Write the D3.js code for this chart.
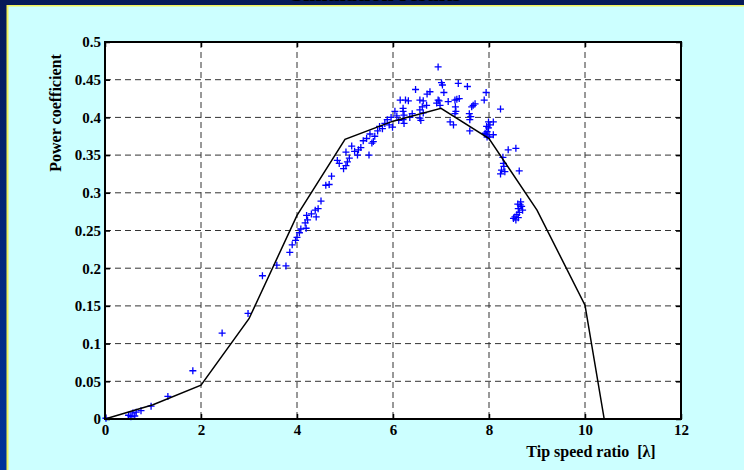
<html>
<head>
<meta charset="utf-8">
<title>Power coefficient</title>
<style>
  body { margin: 0; overflow: hidden; }
  text { font-family: "Liberation Serif", "Times New Roman", serif; font-weight: bold; }
</style>
</head>
<body>
<script src="https://cdn.jsdelivr.net/npm/d3@7"></script>
<script>
// model curve
var curveTSR = [0, 1, 2, 3, 4, 5, 6, 7, 8, 9, 10, 10.4];
var curveCp  = [0, 0.019, 0.045, 0.133, 0.27, 0.371, 0.395, 0.412, 0.372, 0.277, 0.151, 0];

// measured points
var measTSR = [0.02,0.49,0.54,0.58,0.62,0.65,0.75,0.96,1.31,1.83,2.44,2.98,3.28,3.58,3.77,3.85,3.90,3.97,4.00,4.05,
  4.08,4.19,4.17,4.22,4.20,4.30,4.40,4.38,4.44,4.50,4.60,4.67,4.72,4.84,4.88,4.97,5.02,5.05,5.02,5.09,
  5.14,5.26,5.28,5.33,5.38,5.50,5.56,5.59,5.20,5.45,5.52,5.62,5.68,5.72,5.78,5.83,5.88,5.92,5.96,6.04,
  6.08,5.99,6.12,6.21,6.21,6.23,6.21,6.23,6.15,6.26,6.32,6.47,6.56,6.63,6.56,6.61,6.63,6.56,6.58,6.40,
  6.35,6.70,6.71,6.77,6.91,6.94,6.96,6.98,6.94,7.01,7.03,7.06,7.15,7.19,7.26,7.29,7.29,7.30,7.31,7.33,
  7.38,7.36,7.55,7.59,7.62,7.60,7.60,7.64,7.67,7.71,7.90,7.94,7.95,7.99,8.09,8.02,7.99,7.96,7.92,7.95,
  8.09,8.01,7.96,8.24,8.40,8.56,8.29,8.30,8.31,8.26,8.33,8.24,8.63,8.65,8.68,8.61,8.70,8.63,8.58,8.61,
  8.51,8.56,8.54,8.66,8.60];
var measCp = [0.001,0.005,0.003,0.008,0.004,0.009,0.011,0.017,0.030,0.064,0.114,0.140,0.190,0.204,0.203,0.221,0.231,0.237,0.241,0.247,
  0.252,0.253,0.260,0.264,0.270,0.272,0.268,0.277,0.279,0.289,0.310,0.311,0.322,0.343,0.339,0.332,0.336,0.341,0.354,0.346,
  0.362,0.350,0.357,0.360,0.369,0.350,0.366,0.368,0.355,0.372,0.378,0.375,0.382,0.388,0.385,0.392,0.397,0.390,0.400,0.408,
  0.402,0.387,0.396,0.412,0.408,0.403,0.397,0.392,0.423,0.423,0.422,0.437,0.423,0.422,0.410,0.414,0.406,0.399,0.396,0.405,
  0.400,0.416,0.431,0.434,0.419,0.423,0.422,0.416,0.467,0.446,0.443,0.433,0.421,0.394,0.390,0.405,0.423,0.414,0.408,0.424,
  0.425,0.445,0.441,0.405,0.401,0.397,0.382,0.414,0.416,0.418,0.423,0.433,0.388,0.394,0.394,0.390,0.386,0.381,0.379,0.377,
  0.377,0.374,0.374,0.411,0.357,0.359,0.347,0.339,0.335,0.330,0.328,0.325,0.329,0.284,0.282,0.279,0.277,0.274,0.271,0.267,
  0.266,0.264,0.268,0.288,0.285];

var xTicks = [0, 2, 4, 6, 8, 10, 12];
var yTicks = [0, 0.05, 0.1, 0.15, 0.2, 0.25, 0.3, 0.35, 0.4, 0.45, 0.5];

var width = 744, height = 470;
var plotL = 105, plotR = 681, plotT = 42, plotB = 419;

var svg = d3.select("body").append("svg")
    .attr("width", width)
    .attr("height", height);

// background
var grad = svg.append("defs").append("linearGradient")
    .attr("id", "bg").attr("x1", 0).attr("y1", 0).attr("x2", 0).attr("y2", 1);
grad.append("stop").attr("offset", "0%").attr("stop-color", "#061a58");
grad.append("stop").attr("offset", "100%").attr("stop-color", "#00339a");
svg.append("rect").attr("width", width).attr("height", height).attr("fill", "url(#bg)");

// title (mostly off the top of the picture)
svg.append("text")
    .attr("x", 376).attr("y", 1)
    .attr("text-anchor", "middle")
    .attr("font-size", 22)
    .attr("fill", "#000")
    .text("Simulation results");

svg.append("rect").attr("x", 6.5).attr("y", 5).attr("width", 740).attr("height", 470).attr("fill", "#f2f25a");
svg.append("rect").attr("x", 8.5).attr("y", 6.5).attr("width", 740).attr("height", 470).attr("fill", "#ccffff");

var x = d3.scaleLinear().domain([0, 12]).range([plotL, plotR]);
var y = d3.scaleLinear().domain([0, 0.5]).range([plotB, plotT]);

svg.append("rect")
    .attr("x", plotL).attr("y", plotT)
    .attr("width", plotR - plotL).attr("height", plotB - plotT)
    .attr("fill", "#fff");

// grid
svg.append("g").selectAll("line")
    .data(xTicks.slice(1, -1))
    .enter().append("line")
    .attr("x1", function (d) { return x(d); }).attr("x2", function (d) { return x(d); })
    .attr("y1", plotT).attr("y2", plotB)
    .attr("stroke", "#333").attr("stroke-width", 1)
    .attr("stroke-dasharray", "6,4");
svg.append("g").selectAll("line")
    .data(yTicks.slice(1, -1))
    .enter().append("line")
    .attr("y1", function (d) { return y(d); }).attr("y2", function (d) { return y(d); })
    .attr("x1", plotL).attr("x2", plotR)
    .attr("stroke", "#333").attr("stroke-width", 1)
    .attr("stroke-dasharray", "6,4");

// axes
var xAxis = svg.append("g")
    .attr("transform", "translate(0," + plotB + ")")
    .call(d3.axisBottom(x).tickValues(xTicks).tickSize(-5).tickFormat(d3.format("d")));
var yAxis = svg.append("g")
    .attr("transform", "translate(" + plotL + ",0)")
    .call(d3.axisLeft(y).tickValues(yTicks).tickSize(-5).tickFormat(function (d) { return String(+d.toFixed(2)); }));
svg.append("g")
    .attr("transform", "translate(0," + plotT + ")")
    .call(d3.axisTop(x).tickValues(xTicks).tickSize(-5).tickFormat(""));
svg.append("g")
    .attr("transform", "translate(" + plotR + ",0)")
    .call(d3.axisRight(y).tickValues(yTicks).tickSize(-5).tickFormat(""));

svg.selectAll(".domain").attr("stroke", "none");
svg.selectAll(".tick line").attr("stroke", "#000").attr("stroke-width", 1.5);
svg.selectAll(".tick text")
    .attr("font-size", 15)
    .attr("font-family", "'Liberation Serif', serif")
    .attr("font-weight", "bold")
    .attr("fill", "#000");
yAxis.selectAll(".tick text").attr("x", -4);
xAxis.selectAll(".tick text").attr("y", 5);

// measured points
var pts = measTSR.map(function (d, i) { return [d, measCp[i]]; });
svg.append("g").selectAll("path")
    .data(pts)
    .enter().append("path")
    .attr("d", function (d) {
        var px = x(d[0]), py = y(d[1]);
        return "M" + (px - 3.5) + "," + py + "H" + (px + 3.5) + "M" + px + "," + (py - 3.5) + "V" + (py + 3.5);
    })
    .attr("stroke", "#0000ff")
    .attr("stroke-width", 1.3)
    .attr("fill", "none");

// model curve
var line = d3.line()
    .x(function (d) { return x(d[0]); })
    .y(function (d) { return y(d[1]); });
svg.append("path")
    .datum(curveTSR.map(function (d, i) { return [d, curveCp[i]]; }))
    .attr("d", line)
    .attr("fill", "none")
    .attr("stroke", "#000")
    .attr("stroke-width", 1.5);

// frame
svg.append("rect")
    .attr("x", plotL).attr("y", plotT)
    .attr("width", plotR - plotL).attr("height", plotB - plotT)
    .attr("fill", "none").attr("stroke", "#000").attr("stroke-width", 2);

// labels
svg.append("text")
    .attr("transform", "translate(61,113) rotate(-90)")
    .attr("text-anchor", "middle")
    .attr("font-size", 16)
    .attr("fill", "#000")
    .text("Power coefficient");
svg.append("text")
    .attr("x", 591).attr("y", 457)
    .attr("text-anchor", "middle")
    .attr("font-size", 16)
    .attr("fill", "#000")
    .text("Tip speed ratio\u00a0\u00a0[λ]");
</script>
</body>
</html>
